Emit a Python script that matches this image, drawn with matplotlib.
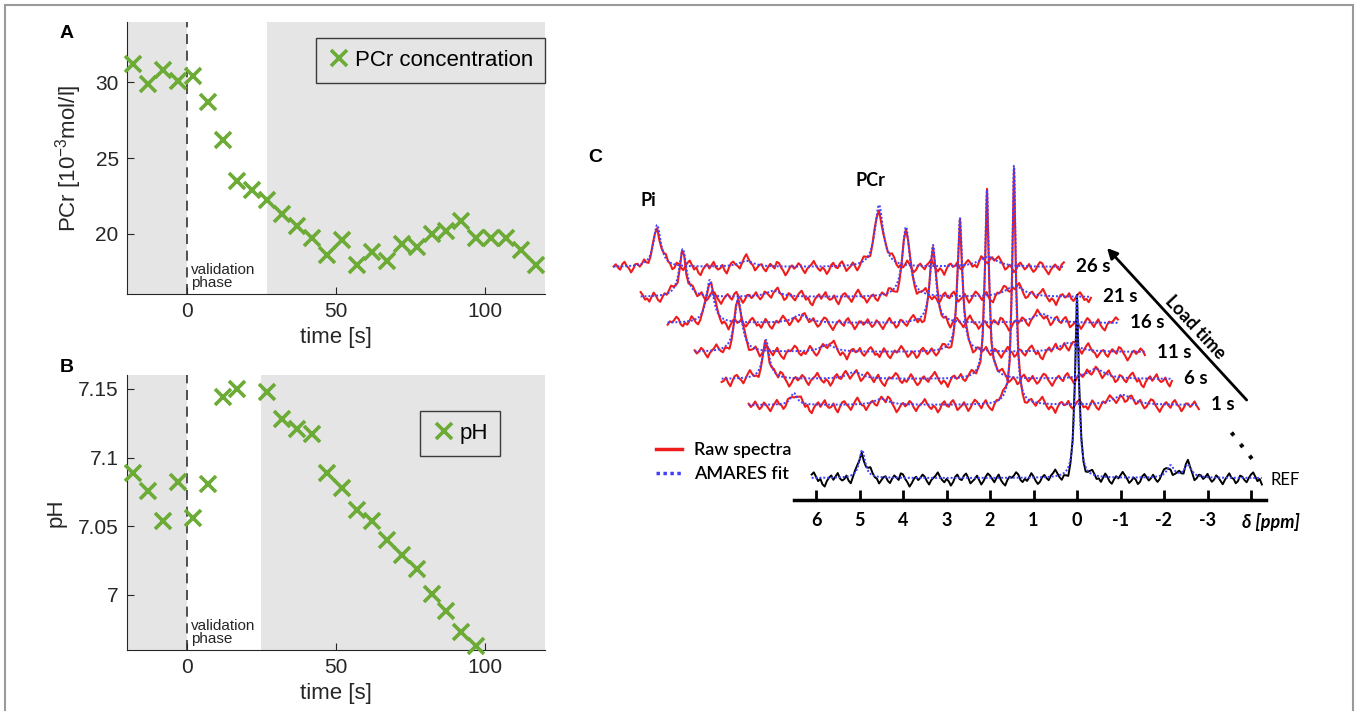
import numpy as np
import matplotlib.pyplot as plt
from matplotlib.lines import Line2D
from matplotlib.patches import Rectangle

plt.rcParams['font.family'] = ['Liberation Sans', 'DejaVu Sans']
plt.rcParams['mathtext.fontset'] = 'custom'
plt.rcParams['mathtext.rm'] = 'Liberation Sans'
plt.rcParams['mathtext.it'] = 'Liberation Sans:italic'

# ---- panel A: PCr concentration over time
pcr_time = [-18, -13, -8, -3, 2, 7, 12, 17, 22, 27, 32, 37, 42, 47, 52, 57, 62, 67,
            72, 77, 82, 87, 92, 97, 102, 107, 112, 117]
pcr_conc = [31.2, 29.9, 30.8, 30.1, 30.4, 28.7, 26.2, 23.5, 22.9, 22.2, 21.3, 20.5,
            19.7, 18.6, 19.6, 17.9, 18.8, 18.2, 19.3, 19.1, 20.0, 20.2, 20.8, 19.7,
            19.7, 19.7, 18.9, 17.9]

# ---- panel B: pH over time
ph_time = [-18, -13, -8, -3, 2, 7, 12, 17, 27, 32, 37, 42, 47, 52, 57, 62, 67, 72,
           77, 82, 87, 92, 97]
ph_value = [7.089, 7.076, 7.054, 7.082, 7.056, 7.081, 7.144, 7.150, 7.148, 7.128,
            7.121, 7.117, 7.089, 7.078, 7.062, 7.054, 7.040, 7.029, 7.019, 7.001,
            6.988, 6.973, 6.963]

# ---- panel C: fitted peaks of the dynamic spectra (1 s ... 26 s)
load_labels = ['1 s', '6 s', '11 s', '16 s', '21 s', '26 s']
pcr_amp = [240, 190, 134, 78, 70, 62]
pcr_hw = [0.05, 0.055, 0.065, 0.08, 0.1, 0.115]
pi_ppm = [5.06, 5.08, 5.10, 5.13, 5.13, 5.10]
pi_amp = [12, 39, 54, 43, 48, 42]
pi_hw = [0.09, 0.09, 0.1, 0.1, 0.1, 0.1]
bump_amp = [6, 7, 7, 8, 6, 6]
atp_amp = [10, 10, 9, 9, 11, 10]

# reference spectrum peaks
ref_ppm = [4.94, 0.0, -2.15, -2.55]
ref_amp = [28, 184, 12, 13]
ref_hw = [0.08, 0.05, 0.1, 0.1]

noise = [1, -2, 0, 3, -1, -4, -2, 2, 0, -3, -6, -2, 1, 4, 0, -1, -5, -3, 2, 1, -2, -4, 0, 3,
         5, 1, -3, -1, -6, -8, -3, 0, 2, -2, 1, 4, -1, -3, -2, 1, -4, -7, -2, 2, 3, 0, -2,
         -5, -1, 3, 6, 2, -1, -2, -6, -3, 0, 1, -3, -5, -1, 2, 0, -2, 4, 3, -1, -4, -8, -5,
         -1, 1, -2, 0, 3, 1, -3, -6, -2, 0, 2, 5, 1, -2, -4, -1, -3, -7, -4, 1, 3, -1, -2,
         2, 4, 0, -5, -3, -1, 2, -2, -6, -3, 1, 4, 2, -1, -4, 0, 3, -2, -5, -7, -2, 1, 0, 2,
         5, 3, -2, -4, -1, -3, 0, 4, 1, -3, -6, -4, 0, 2, -1, -3, 1, 3, 6, 2, -2, -5, -2,
         -4, -8, -3, 1, 2, -1, 0, 3, -2, -4, -1, 2, 4, 1, -3, -2, -5, -1, 3, 0, -4, -6, -2,
         1, -1, 2, 5, 2, -1, -5, -3, 0, -2, -6, -4, 1, 3, 0, -3, -1, 2, -2, -5, -3, 1, 4,
         3, -1, -4, -7, -3, 0, 2, -1, -3, 2, 4, 0, -2, -6, -3, 1]
noise_offsets = [0, 37, 71, 113, 152, 191, 23]

green = '#6cab35'
shade = '#e5e5e5'
ink = '#262626'
red = '#f01c1c'
blue = '#4040ff'

W, H = 1358, 711
fig = plt.figure(figsize=(W / 100, H / 100), dpi=100)


def px_axes(left, top, right, bottom):
    return fig.add_axes([left / W, 1 - bottom / H, (right - left) / W, (bottom - top) / H])


def time_panel(ax, t, v, val_end, label, ylim, yticks, yticklabels, ylabel, anchor):
    ax.axvspan(-20, 0, color=shade, lw=0, zorder=0)
    ax.axvspan(val_end, 120, color=shade, lw=0, zorder=0)
    ax.axvline(0, color='#333333', lw=1.2, dashes=(6, 4), zorder=1)
    ax.plot(t, v, 'x', color=green, ms=11, mew=2.6, label=label, zorder=3, clip_on=False)
    ax.text(1.5, 0.015, 'validation\nphase', transform=ax.get_xaxis_transform(),
            fontsize=11, color=ink, va='bottom', ha='left', linespacing=0.9)
    ax.set_xlim(-20, 120)
    ax.set_ylim(*ylim)
    ax.set_xticks([0, 50, 100])
    ax.set_yticks(yticks)
    ax.set_yticklabels(yticklabels)
    for s in ['top', 'right']:
        ax.spines[s].set_visible(False)
    for s in ['left', 'bottom']:
        ax.spines[s].set_color(ink)
        ax.spines[s].set_linewidth(0.8)
    ax.tick_params(direction='in', length=5, width=0.8, colors=ink, labelsize=15, pad=6)
    ax.set_xlabel('time [s]', fontsize=16, color=ink, labelpad=4)
    ax.set_ylabel(ylabel, fontsize=16, color=ink, labelpad=8)
    leg = ax.legend(loc='upper right', bbox_to_anchor=anchor, borderaxespad=0,
                    fancybox=False, edgecolor='#3a3a3a', facecolor=shade, framealpha=1,
                    fontsize=16, handletextpad=0.2, handlelength=1.0, borderpad=0.55,
                    numpoints=1)
    leg.get_frame().set_linewidth(1.0)


ax_a = px_axes(127, 22, 545, 294)
time_panel(ax_a, pcr_time, pcr_conc, 27, 'PCr concentration', (16, 34), [20, 25, 30],
           ['20', '25', '30'], 'PCr [10$^{-3}$mol/l]', (1.0, 0.941))

ax_b = px_axes(127, 375, 545, 650)
time_panel(ax_b, ph_time, ph_value, 25, 'pH', (6.96, 7.16), [7.0, 7.05, 7.1, 7.15],
           ['7', '7.05', '7.1', '7.15'], 'pH', (0.892, 0.869))

fig.text(60 / W, 1 - 33 / H, 'A', fontsize=14, weight='bold', va='center')
fig.text(60 / W, 1 - 367 / H, 'B', fontsize=14, weight='bold', va='center')

# ---- panel C
ax_c = px_axes(590, 140, 1300, 540)
ax_c.set_xlim((1077 - 590) / 43.5, (1077 - 1300) / 43.5)
ax_c.set_ylim(-62, 338)
ax_c.patch.set_visible(False)
for s in ['top', 'right', 'left']:
    ax_c.spines[s].set_visible(False)
ax_c.spines['bottom'].set_position(('data', -22))
ax_c.spines['bottom'].set_bounds(6.5, -4.35)
ax_c.spines['bottom'].set_linewidth(2.5)
ax_c.set_yticks([])
ppm_ticks = [6, 5, 4, 3, 2, 1, 0, -1, -2, -3, -4]
ax_c.set_xticks(ppm_ticks)
ax_c.set_xticklabels([str(p) for p in ppm_ticks[:-1]] + [''])
ax_c.tick_params(axis='x', direction='in', length=7, width=2, pad=9, labelsize=13)
for lab in ax_c.get_xticklabels():
    lab.set_fontfamily(['Lato', 'DejaVu Sans'])
    lab.set_fontweight('bold')


def lorentz(x, x0, a, hw):
    return a / (1 + ((x - x0) / hw) ** 2)


ppm_raw = np.arange(6.1, -4.27, -0.05)
ppm_fit = np.linspace(6.1, -4.25, 1500)
noise_arr = np.array(noise, dtype=float)
row_base = [73, 99, 126, 155, 181, 211]


def load_model(x, k):
    return (lorentz(x, 0.0, pcr_amp[k], pcr_hw[k])
            + lorentz(x, pi_ppm[k], pi_amp[k], pi_hw[k])
            + lorentz(x, 3.05, bump_amp[k], 0.2)
            + lorentz(x, -2.5, atp_amp[k], 0.25))


def ref_model(x):
    return sum(lorentz(x, p, a, w) for p, a, w in zip(ref_ppm, ref_amp, ref_hw))


cfont = ['Lato', 'DejaVu Sans']
for k in range(len(load_labels) - 1, -1, -1):
    shift = (63 + 27 * k) / 43.5
    base = row_base[k]
    idx = (np.arange(len(ppm_raw)) + noise_offsets[k]) % len(noise_arr)
    raw = base + load_model(ppm_raw, k) + 1.1 * noise_arr[idx]
    ax_c.plot(ppm_raw + shift, raw, color=red, lw=1.5, zorder=2)
    ax_c.plot(ppm_fit + shift, base + load_model(ppm_fit, k), color=blue, lw=1.4,
              ls=(0, (1, 1)), zorder=3)
    ax_c.text(-4.53 + shift, base, load_labels[k], fontsize=13.5, weight='bold',
              family=cfont, ha='left', va='center')

idx = (np.arange(len(ppm_raw)) + noise_offsets[6]) % len(noise_arr)
ax_c.plot(ppm_raw, ref_model(ppm_raw) + 1.1 * noise_arr[idx], color='black', lw=1.4, zorder=2)
ax_c.plot(ppm_fit, ref_model(ppm_fit), color=blue, lw=1.4, ls=(0, (1, 1)), zorder=3)
ax_c.text(-4.45, -2, 'REF', fontsize=12, family=cfont, ha='left', va='center')
ax_c.text(-4.45, -44, 'δ [ppm]', fontsize=13, weight='bold', style='italic',
          family=cfont, ha='center', va='center')
ax_c.text(9.86, 278, 'Pi', fontsize=13, weight='bold', family=cfont, ha='center', va='center')
ax_c.text(4.76, 298, 'PCr', fontsize=13, weight='bold', family=cfont, ha='center', va='center')
ax_c.annotate('', xy=(-0.69, 230), xytext=(-3.9, 78),
              arrowprops=dict(arrowstyle='-|>', lw=2, color='black', mutation_scale=15,
                              shrinkA=0, shrinkB=0))
ax_c.text(-2.71, 151, 'Load time', fontsize=13, weight='bold', family=cfont,
          rotation=-47, rotation_mode='anchor', ha='center', va='center')
ax_c.text(-3.86, 36, '. . .', fontsize=19, weight='bold', rotation=-52,
          rotation_mode='anchor', ha='center', va='center')

handles = [Line2D([], [], color=red, lw=2.5),
           Line2D([], [], color=blue, lw=2.5, ls=(0, (1, 1)))]
fig.legend(handles, ['Raw spectra', 'AMARES fit'], loc='upper left',
           bbox_to_anchor=(640 / W, 1 - 426 / H), frameon=False, handlelength=1.4,
           handletextpad=0.7, labelspacing=0.45, prop={'family': cfont, 'size': 13,
                                                        'weight': 'semibold'})

fig.text(595 / W, 1 - 157 / H, 'C', fontsize=14, weight='bold', va='center', ha='center')

fig.add_artist(Rectangle((5 / W, -0.05), 1 - 10 / W, 1 - 5 / H + 0.05,
                         transform=fig.transFigure, fill=False, edgecolor='#9a9a9a', lw=1.5))

fig.savefig('out.png', dpi=100)
